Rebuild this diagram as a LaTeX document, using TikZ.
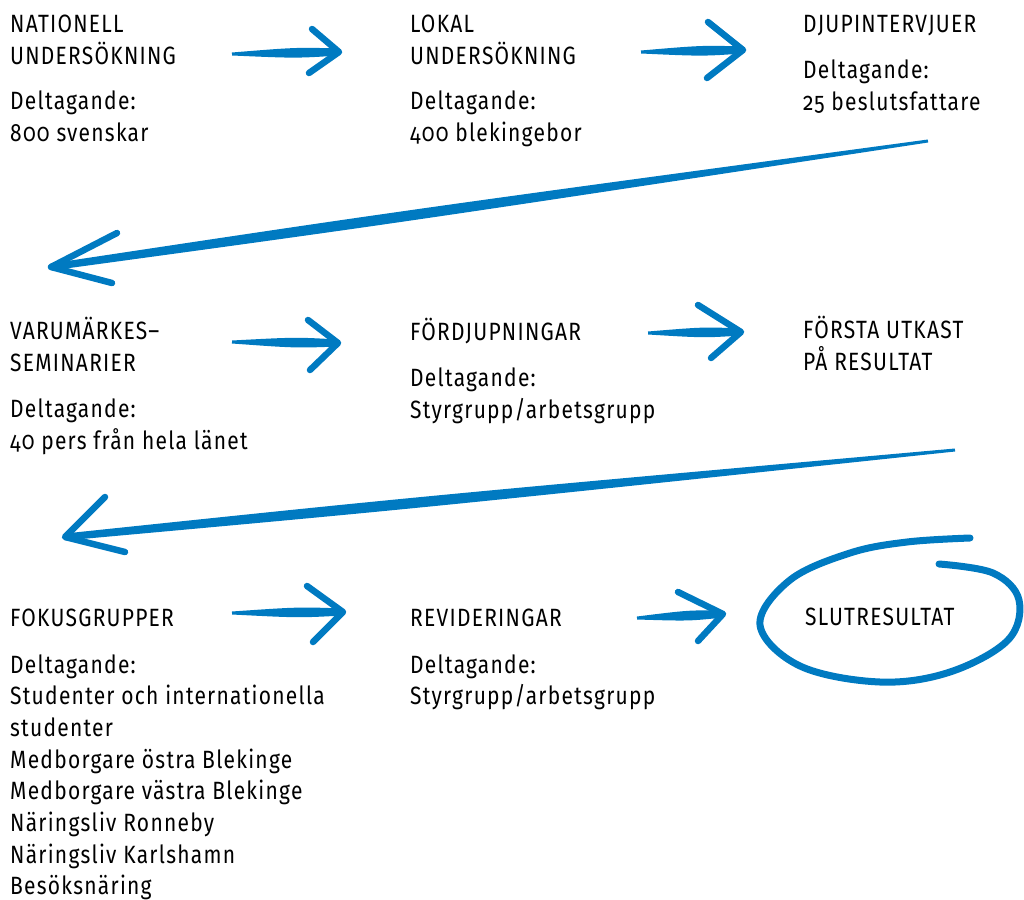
\documentclass[tikz,border=0pt]{standalone}
\usepackage{fontspec}
\setmainfont{Fira Sans}[Numbers=OldStyle,FakeStretch=0.84,LetterSpace=5]
\usetikzlibrary{calc}
\definecolor{brushblue}{RGB}{0,122,193}
\tikzset{
  lbl/.style={anchor=base west, inner sep=0pt, align=left, font=\fontsize{25}{31.7}\selectfont},
  brush/.style={fill=brushblue},
  barb/.style={draw=brushblue, line width=6.5pt, line cap=round, line join=round},
  loopline/.style={draw=brushblue, line width=7pt, line cap=round}
}
% #1 tail, #2 tip, #3 barb end 1, #4 barb end 2, #5 max half width
\newcommand\brusharrow[5]{%
  \coordinate (bsM) at ($(#1)!0.6!(#2)$);
  \fill[brush] ($(#1)!1.5pt!90:(#2)$) .. controls ($(bsM)!#5!90:(#2)$) .. ($(#2)!3.5pt!-90:(#1)$)
     -- ($(#2)!3.5pt!90:(#1)$) .. controls ($(bsM)!#5!-90:(#2)$) .. ($(#1)!1.5pt!-90:(#2)$) -- cycle;
  \draw[barb] (#3) -- (#2) -- (#4);
}
\begin{document}
\begin{tikzpicture}[x=1pt,y=-1pt]
\useasboundingbox (0,0) rectangle (1024,899);
% text (anchor = baseline of the last line)
\node[lbl] (t1) at (10,64) {NATIONELL\\UNDERSÖKNING};
\node[lbl] (d1) at (10,141.5) {Deltagande:\\800 svenskar};
\node[lbl] (t2) at (410,64) {LOKAL\\UNDERSÖKNING};
\node[lbl] (d2) at (410,141.5) {Deltagande:\\400 blekingebor};
\node[lbl] (t3) at (803,33) {DJUPINTERVJUER};
\node[lbl] (d3) at (803,110.5) {Deltagande:\\25 beslutsfattare};
\node[lbl] (t4) at (10,371.5) {VARUMÄRKES–\\SEMINARIER};
\node[lbl] (d4) at (10,449.5) {Deltagande:\\40 pers från hela länet};
\node[lbl] (t5) at (410,340) {FÖRDJUPNINGAR};
\node[lbl] (d5) at (410,418.5) {Deltagande:\\Styrgrupp/arbetsgrupp};
\node[lbl] (t6) at (803,370.5) {FÖRSTA UTKAST\\PÅ RESULTAT};
\node[lbl] (t7) at (10,626) {FOKUSGRUPPER};
\node[lbl] (d7) at (10,894.9) {Deltagande:\\Studenter och internationella\\studenter\\Medborgare östra Blekinge\\Medborgare västra Blekinge\\Näringsliv Ronneby\\Näringsliv Karlshamn\\Besöksnäring};
\node[lbl] (t8) at (410,626) {REVIDERINGAR};
\node[lbl] (d8) at (410,704.7) {Deltagande:\\Styrgrupp/arbetsgrupp};
\node[lbl] (t9) at (805,625) {SLUTRESULTAT};
% arrow coordinates
\coordinate (a1s) at (232,54); \coordinate (a1e) at (339,52);
\coordinate (a1u) at (312,29); \coordinate (a1l) at (309,73);
\coordinate (a2s) at (641,52); \coordinate (a2e) at (743,50);
\coordinate (a2u) at (708,22); \coordinate (a2l) at (707,78);
\coordinate (l1s) at (928,141); \coordinate (l1e) at (51,267);
\coordinate (l1u) at (117,233); \coordinate (l1l) at (112,283);
\coordinate (a3s) at (232,342); \coordinate (a3e) at (338,343);
\coordinate (a3u) at (308,320); \coordinate (a3l) at (310,370);
\coordinate (a4s) at (648,333); \coordinate (a4e) at (741,332);
\coordinate (a4u) at (698,305); \coordinate (a4l) at (711,358);
\coordinate (l2s) at (955,450); \coordinate (l2e) at (65,537);
\coordinate (l2u) at (105,497); \coordinate (l2l) at (125,552);
\coordinate (a5s) at (232,613); \coordinate (a5e) at (343,612);
\coordinate (a5u) at (307,586); \coordinate (a5l) at (313,642);
\coordinate (a6s) at (637,618); \coordinate (a6e) at (723,614);
\coordinate (a6u) at (678,592); \coordinate (a6l) at (698,641);
\brusharrow{a1s}{a1e}{a1u}{a1l}{5.5pt}
\brusharrow{a2s}{a2e}{a2u}{a2l}{5.5pt}
\brusharrow{l1s}{l1e}{l1u}{l1l}{6pt}
\brusharrow{a3s}{a3e}{a3u}{a3l}{5.5pt}
\brusharrow{a4s}{a4e}{a4u}{a4l}{5.5pt}
\brusharrow{l2s}{l2e}{l2u}{l2l}{6pt}
\brusharrow{a5s}{a5e}{a5u}{a5l}{5.5pt}
\brusharrow{a6s}{a6e}{a6u}{a6l}{5.5pt}
% loop around final result
\draw[loopline] plot[smooth, tension=0.6] coordinates {(939,564) (993,573) (1019,600) (1008,640) (950,672) (880,682) (800,666) (760,625) (790,580) (850,553) (907,542) (970,538)};
\end{tikzpicture}
\end{document}
